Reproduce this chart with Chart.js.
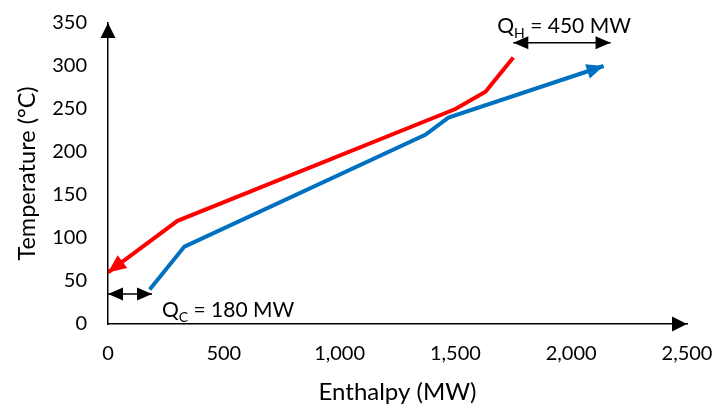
<!DOCTYPE html>
<html><head><meta charset="utf-8">
<script src="https://cdn.jsdelivr.net/npm/chart.js@4/dist/chart.umd.min.js"></script>
<style>html,body{margin:0;padding:0;background:#fff}</style>
</head><body>
<canvas id="c" width="715" height="409"></canvas>
<script>
// ---- data ----
const xTicks = [0, 500, 1000, 1500, 2000, 2500];
const yTicks = [0, 50, 100, 150, 200, 250, 300, 350];
const hotH  = [0, 300, 1500, 1630, 1750];
const hotT  = [60, 120, 250, 270, 310];
const coldH = [180, 330, 1370, 1470, 2140];
const coldT = [40, 90, 220, 240, 300];
const qhH = [1750, 2170];
const qhT = [327, 327];
const qcH = [0, 190];
const qcT = [35, 35];
const qhLabel = ['Q', 'H', ' = 450 MW'];
const qcLabel = ['Q', 'C', ' = 180 MW'];
const xTitle = 'Enthalpy (MW)';
const yTitle = 'Temperature (°C)';

const FONT = 'Lato';
const pts = (xs, ys) => xs.map((x, i) => ({x, y: ys[i]}));

function head(ctx, x, y, ang, len, w, color) {
  ctx.save();
  ctx.translate(x, y); ctx.rotate(ang);
  ctx.beginPath(); ctx.moveTo(0, 0); ctx.lineTo(-len, w / 2); ctx.lineTo(-len, -w / 2); ctx.closePath();
  ctx.fillStyle = color; ctx.fill();
  ctx.restore();
}

const arrowPlugin = {
  id: 'arrows',
  afterDatasetsDraw(chart) {
    const ctx = chart.ctx;
    chart.data.datasets.forEach((ds, i) => {
      if (!ds.arrow) return;
      const el = chart.getDatasetMeta(i).data;
      const n = el.length;
      const a = ds.arrow;
      if (a.start) {
        const p0 = el[0], p1 = el[1];
        head(ctx, p0.x, p0.y, Math.atan2(p0.y - p1.y, p0.x - p1.x), a.len, a.w, ds.borderColor);
      }
      if (a.end) {
        const p0 = el[n - 1], p1 = el[n - 2];
        head(ctx, p0.x, p0.y, Math.atan2(p0.y - p1.y, p0.x - p1.x), a.len, a.w, ds.borderColor);
      }
    });
  },
  afterDraw(chart) {
    const ctx = chart.ctx, ca = chart.chartArea;
    head(ctx, ca.right, ca.bottom, 0, 15, 15, '#000');
    head(ctx, ca.left, ca.top, -Math.PI / 2, 15, 15, '#000');
    // labels with subscript
    const drawLab = (dsIndex, parts, which, dx, dy) => {
      const el = chart.getDatasetMeta(dsIndex).data[which];
      let x = el.x + dx, y = el.y + dy;
      ctx.save();
      ctx.fillStyle = '#000'; ctx.textBaseline = 'alphabetic'; ctx.textAlign = 'left';
      ctx.font = '21px ' + FONT; ctx.fillText(parts[0], x, y); x += ctx.measureText(parts[0]).width;
      ctx.font = '14px ' + FONT; ctx.fillText(parts[1], x, y + 5); x += ctx.measureText(parts[1]).width;
      ctx.font = '21px ' + FONT; ctx.fillText(parts[2], x, y);
      ctx.restore();
    };
    drawLab(2, qhLabel, 0, -16, -10);
    drawLab(3, qcLabel, 1, 10, 23);
  }
};

new Chart(document.getElementById('c'), {
  type: 'line',
  data: {
    datasets: [
      {data: pts(hotH, hotT), borderColor: '#FF0000', borderWidth: 4, pointRadius: 0, borderCapStyle: 'butt', borderJoinStyle: 'miter', tension: 0, arrow: {start: true, len: 18, w: 16}},
      {data: pts(coldH, coldT), borderColor: '#0070C0', borderWidth: 4, pointRadius: 0, borderCapStyle: 'butt', borderJoinStyle: 'miter', tension: 0, arrow: {end: true, len: 17, w: 15}},
      {data: pts(qhH, qhT), borderColor: '#000000', borderWidth: 1.5, pointRadius: 0, arrow: {start: true, end: true, len: 15, w: 13}},
      {data: pts(qcH, qcT), borderColor: '#000000', borderWidth: 1.5, pointRadius: 0, arrow: {start: true, end: true, len: 15, w: 13}}
    ]
  },
  options: {
    responsive: false, animation: false, devicePixelRatio: 1,
    layout: {padding: {left: 0, right: 28, top: 23, bottom: 0}},
    plugins: {legend: {display: false}, tooltip: {enabled: false}},
    scales: {
      x: {
        type: 'linear', min: xTicks[0], max: xTicks[xTicks.length - 1],
        afterBuildTicks: s => { s.ticks = xTicks.map(v => ({value: v})); },
        afterFit: s => { s.height = 85; s.paddingLeft = 0; s.paddingRight = 0; },
        grid: {display: false, drawTicks: false},
        border: {display: true, color: '#000', width: 1.5},
        ticks: {color: '#000', font: {family: FONT, size: 20}, padding: 18, maxRotation: 0,
                callback: v => v.toLocaleString('en-US')},
        title: {display: true, text: xTitle, color: '#000', font: {family: FONT, size: 24}, padding: {top: 2, bottom: 2}}
      },
      y: {
        type: 'linear', min: yTicks[0], max: yTicks[yTicks.length - 1],
        afterBuildTicks: s => { s.ticks = yTicks.map(v => ({value: v})); },
        afterFit: s => { s.width = 108; s.paddingTop = 0; s.paddingBottom = 0; },
        grid: {display: false, drawTicks: false},
        border: {display: true, color: '#000', width: 1.5},
        ticks: {color: '#000', font: {family: FONT, size: 20}, padding: 21},
        title: {display: true, text: yTitle, color: '#000', font: {family: FONT, size: 23.5}, padding: {top: 13, bottom: 0}}
      }
    }
  },
  plugins: [arrowPlugin]
});
</script>
</body></html>
